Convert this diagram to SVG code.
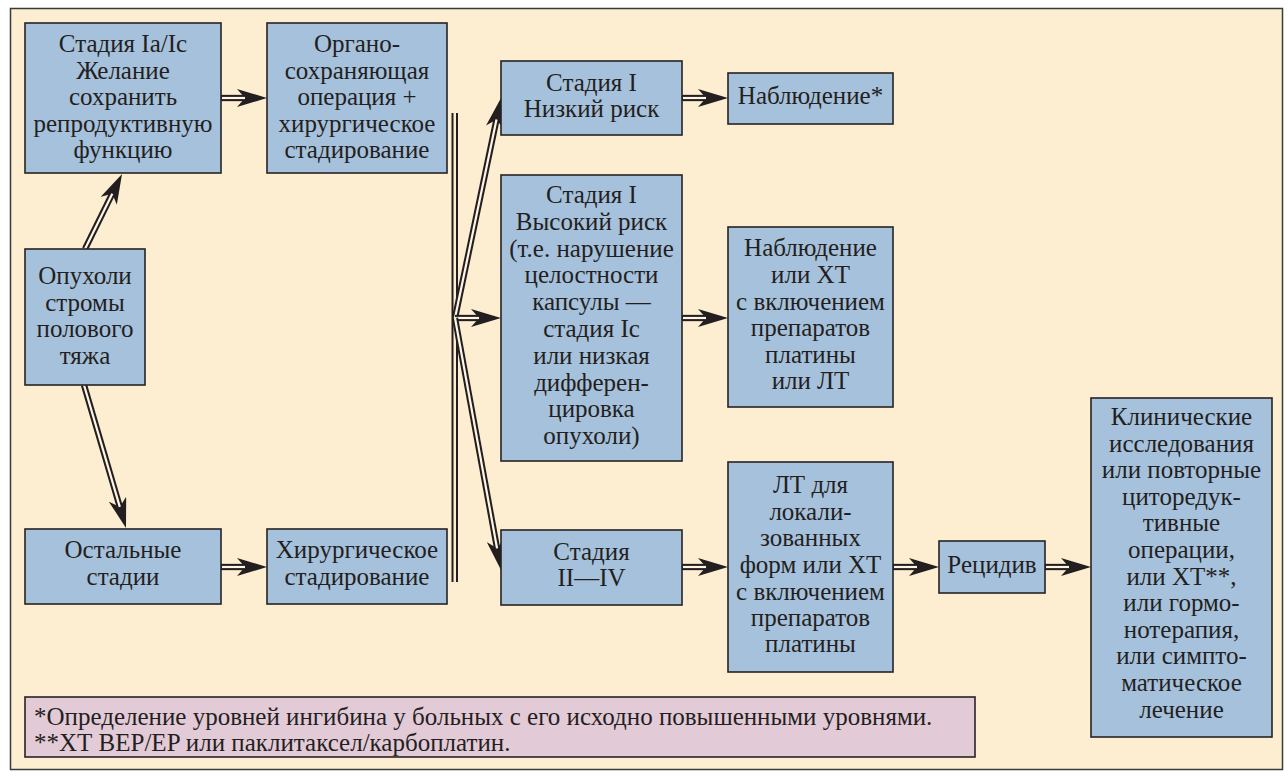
<svg xmlns="http://www.w3.org/2000/svg" width="1288" height="778" viewBox="0 0 1288 778" font-family="'Liberation Serif', 'Times New Roman', serif">
<style>
.frame{fill:#FDEED2;stroke:#3a3a3a;stroke-width:1.5}
.box{fill:#A6C1DC;stroke:#262223;stroke-width:1.6}
.note{fill:#E3CAD7;stroke:#262223;stroke-width:1.6}
text{font-family:'Liberation Serif','Times New Roman',serif;font-size:25px;fill:#231F20}
.c{text-anchor:middle}
.o{fill:none;stroke:#231F20;stroke-width:6.3}
.i{fill:none;stroke:#FFF6E6;stroke-width:2.2}
</style>
<defs>
<marker id="ah" markerUnits="userSpaceOnUse" viewBox="0 0 30 18" refX="8" refY="9" markerWidth="30" markerHeight="18" orient="auto">
<path d="M0,0 L30,9 L0,18 L8,9 Z" fill="#231F20"/>
</marker>
</defs>
<rect class="frame" x="10.5" y="8.5" width="1272" height="761"/>

<g id="connectors">
<path class="o" d="M452.5,113 V582 M457,113 V582" style="stroke-width:2"/>
<path class="o" d="M85,249 L112.3,193.7" marker-end="url(#ah)"/><path class="i" d="M85,249 L112.3,193.7"/>
<path class="o" d="M84,385 L119.8,506.9" marker-end="url(#ah)"/><path class="i" d="M84,385 L119.8,506.9"/>
<path class="o" d="M221,98 H245" marker-end="url(#ah)"/><path class="i" d="M222,98 H245"/>
<path class="o" d="M221,567 H245" marker-end="url(#ah)"/><path class="i" d="M222,567 H245"/>
<path class="o" d="M455,318 L496.5,119.5" marker-end="url(#ah)"/><path class="i" d="M455,318 L496.5,119.5"/>
<path class="o" d="M455,318 H479" marker-end="url(#ah)"/><path class="i" d="M455,318 H479"/>
<path class="o" d="M455,318 L497.05,548.36" marker-end="url(#ah)"/><path class="i" d="M455,318 L497.05,548.36"/>
<path class="o" d="M682,98 H706" marker-end="url(#ah)"/><path class="i" d="M683,98 H706"/>
<path class="o" d="M682,318 H706" marker-end="url(#ah)"/><path class="i" d="M683,318 H706"/>
<path class="o" d="M682,567 H706" marker-end="url(#ah)"/><path class="i" d="M683,567 H706"/>
<path class="o" d="M893,567 H917" marker-end="url(#ah)"/><path class="i" d="M894,567 H917"/>
<path class="o" d="M1045,567 H1069" marker-end="url(#ah)"/><path class="i" d="M1046,567 H1069"/>
</g>

<g id="n-stage1a">
<rect class="box" x="25" y="23" width="196" height="150"/>
<text class="c" x="123" y="52">Стадия Ia/Ic</text>
<text class="c" x="123" y="78.5">Желание</text>
<text class="c" x="123" y="105">сохранить</text>
<text class="c" x="123" y="131.5">репродуктивную</text>
<text class="c" x="123" y="158">функцию</text>
</g>
<g id="n-organ">
<rect class="box" x="267" y="23" width="180" height="150"/>
<text class="c" x="357" y="52">Органо-</text>
<text class="c" x="357" y="78.5">сохраняющая</text>
<text class="c" x="357" y="105">операция +</text>
<text class="c" x="357" y="131.5">хирургическое</text>
<text class="c" x="357" y="158">стадирование</text>
</g>
<g id="n-tumor">
<rect class="box" x="25" y="249" width="120" height="136"/>
<text class="c" x="85" y="284">Опухоли</text>
<text class="c" x="85" y="310.5">стромы</text>
<text class="c" x="85" y="337">полового</text>
<text class="c" x="85" y="363.5">тяжа</text>
</g>
<g id="n-other">
<rect class="box" x="25" y="529" width="196" height="75"/>
<text class="c" x="123" y="558">Остальные</text>
<text class="c" x="123" y="585">стадии</text>
</g>
<g id="n-surg">
<rect class="box" x="267" y="529" width="180" height="75"/>
<text class="c" x="357" y="558">Хирургическое</text>
<text class="c" x="357" y="585">стадирование</text>
</g>
<g id="n-low">
<rect class="box" x="501" y="61" width="181" height="74"/>
<text class="c" x="591.5" y="91">Стадия I</text>
<text class="c" x="591.5" y="117">Низкий риск</text>
</g>
<g id="n-high">
<rect class="box" x="501" y="175" width="181" height="286"/>
<text class="c" x="591.5" y="203">Стадия I</text>
<text class="c" x="591.5" y="230">Высокий риск</text>
<text class="c" x="591.5" y="257">(т.е. нарушение</text>
<text class="c" x="591.5" y="283">целостности</text>
<text class="c" x="591.5" y="310">капсулы —</text>
<text class="c" x="591.5" y="337">стадия Ic</text>
<text class="c" x="591.5" y="364">или низкая</text>
<text class="c" x="591.5" y="391">дифферен-</text>
<text class="c" x="591.5" y="417">цировка</text>
<text class="c" x="591.5" y="444">опухоли)</text>
</g>
<g id="n-st24">
<rect class="box" x="501" y="530" width="181" height="75"/>
<text class="c" x="591.5" y="560">Стадия</text>
<text class="c" x="591.5" y="586">II—IV</text>
</g>
<g id="n-obs">
<rect class="box" x="728" y="73" width="165" height="51"/>
<text class="c" x="810.5" y="104">Наблюдение*</text>
</g>
<g id="n-obsxt">
<rect class="box" x="728" y="227" width="165" height="180"/>
<text class="c" x="810.5" y="256">Наблюдение</text>
<text class="c" x="810.5" y="283">или ХТ</text>
<text class="c" x="810.5" y="310">с включением</text>
<text class="c" x="810.5" y="336">препаратов</text>
<text class="c" x="810.5" y="363">платины</text>
<text class="c" x="810.5" y="389">или ЛТ</text>
</g>
<g id="n-lt">
<rect class="box" x="728" y="462" width="165" height="210"/>
<text class="c" x="810.5" y="493">ЛТ для</text>
<text class="c" x="810.5" y="520">локали-</text>
<text class="c" x="810.5" y="546">зованных</text>
<text class="c" x="810.5" y="573">форм или ХТ</text>
<text class="c" x="810.5" y="600">с включением</text>
<text class="c" x="810.5" y="626">препаратов</text>
<text class="c" x="810.5" y="652">платины</text>
</g>
<g id="n-relapse">
<rect class="box" x="939" y="541" width="106" height="52"/>
<text class="c" x="992" y="573">Рецидив</text>
</g>
<g id="n-clinic">
<rect class="box" x="1091" y="398" width="181" height="339"/>
<text class="c" x="1181.5" y="425">Клинические</text>
<text class="c" x="1181.5" y="451.6">исследования</text>
<text class="c" x="1181.5" y="478.2">или повторные</text>
<text class="c" x="1181.5" y="504.8">циторедук-</text>
<text class="c" x="1181.5" y="531.4">тивные</text>
<text class="c" x="1181.5" y="558">операции,</text>
<text class="c" x="1181.5" y="584.6">или ХТ**,</text>
<text class="c" x="1181.5" y="611.2">или гормо-</text>
<text class="c" x="1181.5" y="637.8">нотерапия,</text>
<text class="c" x="1181.5" y="664.4">или симпто-</text>
<text class="c" x="1181.5" y="691">матическое</text>
<text class="c" x="1181.5" y="717.6">лечение</text>
</g>
<g id="n-note">
<rect class="note" x="25" y="697" width="950" height="60"/>
<text x="34" y="725">*Определение уровней ингибина у больных с его исходно повышенными уровнями.</text>
<text x="34" y="751">**ХТ BEP/EP или паклитаксел/карбоплатин.</text>
</g>
</svg>
